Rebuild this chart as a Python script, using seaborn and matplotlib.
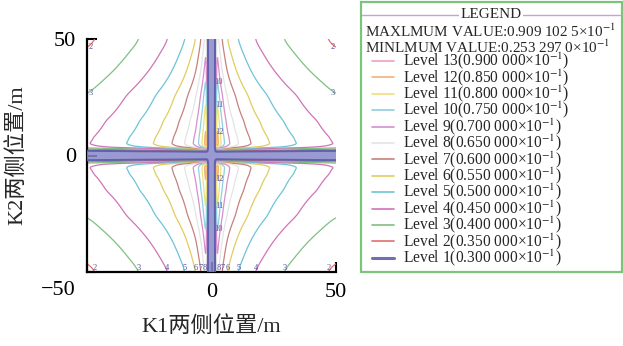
import numpy as np
import matplotlib
matplotlib.use("Agg")
import matplotlib.pyplot as plt
import matplotlib.transforms as mtransforms
from matplotlib.patches import Rectangle
import seaborn as sns

# Value profile along the K2 = ±50 m edges, vs. distance from the K1 = 0 line (m)
k1_dist = [0.0, 2.0, 2.8, 4.2, 6.3, 10.5, 17.3, 28.7, 46.3, 50.0]
k1_value = [0.0694, 0.0694, 0.065, 0.060, 0.055, 0.050, 0.045, 0.040, 0.035, 0.0339]
# Value profile along the K1 = ±50 m edges, vs. distance from the K2 = 0 line (m)
k2_dist = [0.0, 5.0, 8.0, 15.0, 26.0, 45.5, 50.0]
k2_value = [0.0445, 0.0445, 0.0440, 0.0425, 0.040, 0.035, 0.0339]
# Weights of the low-value bands along the two axes
k1_band_dist = [0.0, 1.2, 1.5, 1.7, 1.9, 2.1, 2.4, 50.0]
k1_band_weight = [0.0, 0.0, 0.1, 0.45, 0.8, 0.95, 1.0, 1.0]
k2_band_dist = [0.0, 1.5, 1.9, 2.6, 3.0, 3.4, 4.0, 5.0, 50.0]
k2_band_weight = [0.0, 0.0, 0.2, 0.42, 0.63, 0.85, 0.95, 1.0, 1.0]

max_value = 0.09091025
min_value = 0.02532970

level_ids = list(range(1, 14))
level_values = [0.030, 0.035, 0.040, 0.045, 0.050, 0.055, 0.060,
                0.065, 0.070, 0.075, 0.080, 0.085, 0.090]
level_colors = ["#6f6fb8", "#e07070", "#80c080", "#d074b8", "#6cc4d8",
                "#e2cc60", "#c8807e", "#e4e4e4", "#d58fce", "#8fcfe0",
                "#ece07a", "#f2b27a", "#f0a0b8"]

x_ticks = [-50, 0, 50]
y_ticks = [-50, 0, 50]
x_label = "K1两侧位置/m"
y_label = "K2两侧位置/m"

sns.set_theme(style="ticks")
plt.rcParams["mathtext.fontset"] = "stix"
serif = ["Liberation Serif", "Noto Sans CJK SC", "DejaVu Sans"]
plt.rcParams["font.family"] = serif


def sample_profile(dist, vals, d):
    """Smooth profile through the knots, evaluated at distances d."""
    u_k = np.log1p(np.asarray(dist, float))
    u = np.linspace(0.0, u_k[-1], 800)
    f = np.interp(u, u_k, vals)
    kern = np.exp(-0.5 * (np.arange(-40, 41) / 10.0) ** 2)
    kern /= kern.sum()
    fs = np.convolve(np.pad(f, 40, mode="edge"), kern, mode="valid")
    return np.interp(np.log1p(d), u, fs)


grid = np.linspace(-50, 50, 1001)
ad = np.abs(grid)
px = sample_profile(k1_dist, k1_value, ad)
py = sample_profile(k2_dist, k2_value, ad)
wx = sample_profile(k1_band_dist, k1_band_weight, ad)
wy = sample_profile(k2_band_dist, k2_band_weight, ad)

smooth = np.outer(py, px) / k1_value[-1]
weight = np.outer(wy, wx)
scale = (max_value - min_value) / (smooth.max() - min_value)
field = min_value + (smooth - min_value) * weight * scale
X, Y = np.meshgrid(grid, grid)

fig = plt.figure(figsize=(6.23, 3.46), dpi=100)
fig.patch.set_facecolor("white")

# legend panel drawn in pixel coordinates
lg = fig.add_axes([0, 0, 1, 1], zorder=0)
lg.set_xlim(0, 623)
lg.set_ylim(346, 0)
lg.axis("off")
lg.add_patch(Rectangle((360.5, 2), 261, 270, fill=False,
                       edgecolor="#7cc47c", lw=1.6))
lg.plot([362, 620], [15, 15], color="#c8a0d8", lw=1.0)
lg.text(491, 15, "LEGEND", ha="center", va="center", fontsize=11,
        family=serif, bbox=dict(facecolor="white", edgecolor="none", pad=1))


def sci_text(v, nd):
    s = f"{v * 10:.{nd}f}"
    head, dec = s.split(".")
    groups = [dec[i:i + 3] for i in range(0, len(dec), 3)]
    return head + "." + " ".join(groups) + "×10$^{-1}$"


lg.text(365, 31, "MAXLMUM VALUE:" + sci_text(max_value, 7), ha="left",
        va="center", fontsize=10.9, family=serif)
lg.text(365, 47, "MINLMUM VALUE:" + sci_text(min_value, 7), ha="left",
        va="center", fontsize=10.9, family=serif)
for lid, val, col in zip(level_ids, level_values, level_colors):
    yy = 61 + (13 - lid) * 16.4
    lg.plot([372, 394], [yy, yy], color=col, lw=2.2 if lid == 1 else 1.2)
    lg.text(403, yy, f"Level {lid}(" + sci_text(val, 6) + ")", ha="left",
            va="center", fontsize=11.2, family=serif)

ax = fig.add_axes([87 / 623, 74 / 346, 249 / 623, 233 / 346], zorder=2)
ax.set_facecolor("none")
cs = ax.contour(X, Y, field, levels=level_values, colors=level_colors,
                linewidths=0.9)
# low-value bands along both axes, outlined by the Level 1 contour
ax.contourf(X, Y, field, levels=[0.0, level_values[0]], colors=["#8888cc"],
            alpha=0.85, zorder=3)
ax.contour(X, Y, field, levels=level_values[:1], colors=["#5a5aa8"],
           linewidths=1.5, alpha=0.85, zorder=4)

# level numbers at the border crossings and at the tips of the inner loops
lab_kw = dict(fontsize=6, color="#5050a8", ha="center", va="center",
              family=serif, zorder=5)
for i, segs in enumerate(cs.allsegs):
    lid = level_ids[i]
    if lid == 1:
        continue
    for seg in segs:
        if len(seg) < 2:
            continue
        for pt in (seg[0], seg[-1]):
            if pt[1] < -49.5 and abs(pt[0]) > 2.4:
                ax.text(pt[0], -48.3, str(lid), **lab_kw)
            elif abs(pt[0]) > 49.5 and pt[1] > 5:
                ax.text(np.sign(pt[0]) * 48.6, pt[1], str(lid), **lab_kw)
        if lid >= 10 and seg[:, 0].mean() > 0:
            top = seg[np.argmax(np.abs(seg[:, 1]))]
            ax.text(top[0] + 0.6, top[1], str(lid), **lab_kw)

ax.set_xlim(-50, 50)
ax.set_ylim(-50, 50)
ax.set_xticks(x_ticks)
ax.set_yticks(y_ticks)
ax.set_xticklabels(["" if t == -50 else f"{t}" for t in x_ticks])
ax.set_yticklabels([f"{t}".replace("-", "−") for t in y_ticks])
sns.despine(ax=ax)
for s in ("left", "bottom"):
    ax.spines[s].set_color("black")
    ax.spines[s].set_linewidth(1.6)
ax.tick_params(direction="in", length=7, width=1.5, pad=8, labelsize=16,
               colors="black")
for t in ax.get_xticklabels() + ax.get_yticklabels():
    t.set_family(serif)
# the lowest K2 label sits level with the K1 tick labels
low = ax.get_yticklabels()[0]
low.set_transform(low.get_transform() + mtransforms.ScaledTranslation(
    0, -16 / 100, fig.dpi_scale_trans))
ax.set_xlabel(x_label, fontsize=16, family=serif, labelpad=10)
ax.set_ylabel(y_label, fontsize=16, family=serif, labelpad=10)

fig.savefig("out.png", dpi=100)
